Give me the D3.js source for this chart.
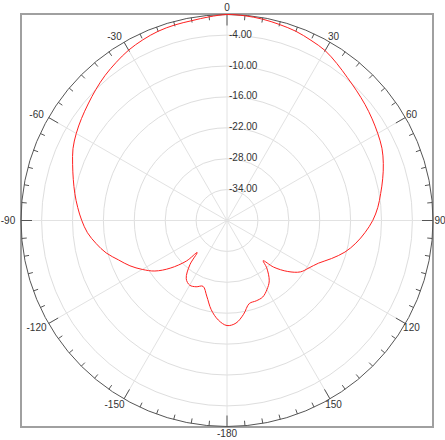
<!DOCTYPE html>
<html>
<head>
<meta charset="utf-8">
<script src="https://cdn.jsdelivr.net/npm/d3@7"></script>
<style>
  body { margin: 0; background: #fff; }
  text { font-family: "Liberation Sans", Arial, sans-serif; font-size: 10px; fill: #333; }
</style>
</head>
<body>
<div id="chart"></div>
<script>
// pattern angles (deg, clockwise from top) and gain (dB)
var angles = [-180, -175, -170, -165, -160, -155, -150, -145, -140, -137, -135, -130, -125, -120, -115, -110, -105, -100, -95, -90,
  -85, -80, -75, -70, -65, -60, -55, -50, -45, -40, -35, -30, -25, -20, -15, -10, -5, 0,
  5, 10, 15, 20, 25, 30, 35, 40, 45, 50, 55, 60, 65, 70, 75, 80, 85, 90,
  95, 100, 105, 110, 115, 120, 125, 130, 135, 138, 140, 145, 150, 155, 160, 165, 170, 175];
var gain = [-19.6, -20.6, -22.4, -24.8, -26.4, -25.8, -25.5, -26.2, -28.8, -31.5, -28.9, -25.6, -22.9, -21.0, -19.2, -17.6, -15.7, -14.2, -12.8, -11.8,
  -10.9, -10.0, -9.1, -8.1, -7.0, -6.2, -5.5, -4.8, -4.0, -3.2, -2.5, -1.8, -1.3, -0.9, -0.7, -0.6, -0.3, 0,
  -0.1, -0.3, -0.6, -0.9, -1.4, -1.9, -2.8, -3.7, -4.4, -5.0, -5.6, -6.2, -6.8, -7.7, -8.7, -9.7, -10.6, -11.7,
  -13.1, -14.6, -16.3, -18.4, -20.4, -21.6, -22.6, -24.6, -27.2, -29.5, -28.0, -25.7, -24.5, -23.6, -23.4, -23.3, -21.5, -20.0];

var ringLevels = [-4, -10, -16, -22, -28, -34];
var ringLabels = ["-4.00", "-10.00", "-16.00", "-22.00", "-28.00", "-34.00"];
var angleTicks = [0, 30, 60, 90, 120, 150, 180, -150, -120, -90, -60, -30];
var angleLabels = ["0", "30", "60", "90", "120", "150", "-180", "-150", "-120", "-90", "-60", "-30"];

var width = 445, height = 440;
var cx = 227, cy = 220.5, R = 206;

var svg = d3.select("#chart").append("svg")
  .attr("width", width)
  .attr("height", height);

var r = d3.scaleLinear().domain([-40, 0]).range([0, R]);
var rad = function (a) { return a * Math.PI / 180; };

// frame
svg.append("rect")
  .attr("x", 21).attr("y", 14)
  .attr("width", 412).attr("height", 413)
  .style("fill", "none")
  .style("stroke", "#a0a0a0")
  .style("stroke-width", 2);

var g = svg.append("g")
  .attr("transform", "translate(" + cx + "," + cy + ")");

// grid rings
g.selectAll(".ring")
  .data(ringLevels)
  .enter().append("circle")
  .attr("class", "ring")
  .attr("r", function (d) { return r(d); })
  .style("fill", "none")
  .style("stroke", "#dedede");

// spokes
g.selectAll(".spoke")
  .data(d3.range(0, 360, 30))
  .enter().append("line")
  .attr("class", "spoke")
  .attr("x2", function (d) { return R * Math.sin(rad(d)); })
  .attr("y2", function (d) { return -R * Math.cos(rad(d)); })
  .style("stroke", "#e2e2e2");

// outer circle
g.append("circle")
  .attr("r", R)
  .style("fill", "none")
  .style("stroke", "#555");

// ticks, every 5 deg, longer at 30
g.selectAll(".tick")
  .data(d3.range(0, 360, 5))
  .enter().append("line")
  .attr("class", "tick")
  .each(function (d) {
    var len = d % 30 === 0 ? 11 : 5;
    var s = Math.sin(rad(d)), c = Math.cos(rad(d));
    d3.select(this)
      .attr("x1", R * s).attr("y1", -R * c)
      .attr("x2", (R - len) * s).attr("y2", -(R - len) * c);
  })
  .style("stroke", "#555");

// pattern
var line = d3.lineRadial()
  .angle(function (d) { return rad(d[0]); })
  .radius(function (d) { return r(Math.max(-40, d[1])); })
  .curve(d3.curveCatmullRomClosed.alpha(0.5));

g.append("path")
  .datum(angles.map(function (a, i) { return [a, gain[i]]; }))
  .attr("d", line)
  .style("fill", "none")
  .style("stroke", "#ff2020")
  .style("stroke-width", 1);

// ring labels
g.selectAll(".rlabel")
  .data(ringLevels)
  .enter().append("text")
  .attr("class", "rlabel")
  .attr("x", 2)
  .attr("y", function (d) { return -r(d) + 2.5; })
  .text(function (d, i) { return ringLabels[i]; });

// angle labels
g.selectAll(".alabel")
  .data(angleTicks)
  .enter().append("text")
  .attr("class", "alabel")
  .attr("text-anchor", "middle")
  .attr("dy", "0.35em")
  .attr("x", function (d) {
    var off = (d < 0 && d > -180) ? -6 : 0;
    return 213 * Math.sin(rad(d)) + off;
  })
  .attr("y", function (d) { return -213 * Math.cos(rad(d)); })
  .text(function (d, i) { return angleLabels[i]; });
</script>
</body>
</html>
